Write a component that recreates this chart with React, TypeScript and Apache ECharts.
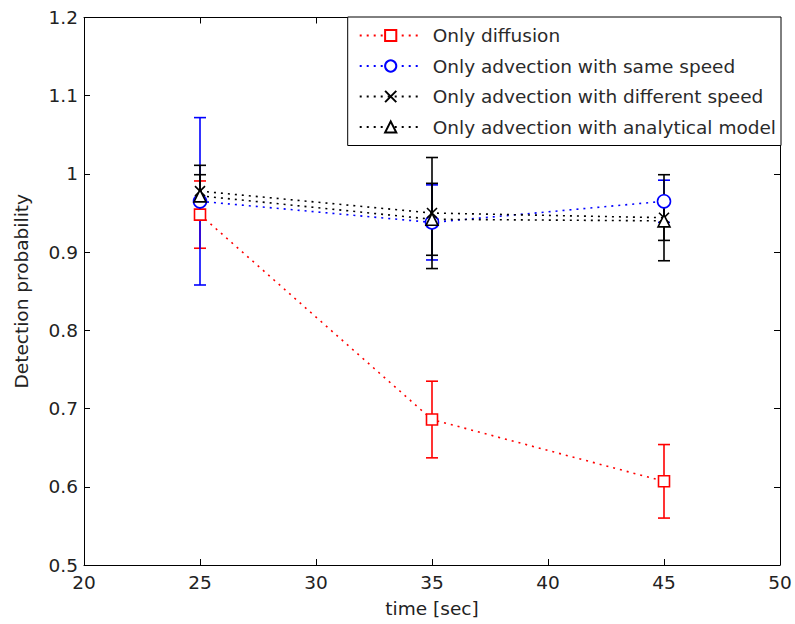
import React, { useEffect, useRef } from "react";
import * as echarts from "echarts";

const times = [25, 35, 45];
const diffusion = [0.948, 0.686, 0.607];
const diffusionErr = [0.043, 0.049, 0.047];
const sameSpeed = [0.965, 0.938, 0.965];
const sameSpeedErr = [0.107, 0.048, 0.027];
const diffSpeed = [0.978, 0.95, 0.944];
const diffSpeedErr = [0.033, 0.071, 0.055];
const analytical = [0.972, 0.942, 0.94];
const analyticalErr = [0.027, 0.046, 0.025];

const seriesNames = [
  "Only diffusion",
  "Only advection with same speed",
  "Only advection with different speed",
  "Only advection with analytical model",
];

const FONT = "DejaVu Sans";
const FS = 18.5;

export default function App() {
  const ref = useRef<HTMLDivElement>(null);
  useEffect(() => {
    if (!ref.current) return;
    const chart = echarts.init(ref.current, undefined, { renderer: "svg" });

    const errSeries = (vals: number[], errs: number[], color: string) => ({
      type: "custom",
      xAxisIndex: 0,
      yAxisIndex: 0,
      z: 2,
      silent: true,
      data: times.map((t, i) => [t, vals[i] - errs[i], vals[i] + errs[i]]),
      renderItem: (params: any, api: any) => {
        const x = api.value(0);
        const lo = api.coord([x, api.value(1)]);
        const hi = api.coord([x, api.value(2)]);
        const hw = 6;
        const style = { stroke: color, lineWidth: 1.6 };
        return {
          type: "group",
          children: [
            { type: "line", shape: { x1: lo[0], y1: lo[1], x2: hi[0], y2: hi[1] }, style },
            { type: "line", shape: { x1: hi[0] - hw, y1: hi[1], x2: hi[0] + hw, y2: hi[1] }, style },
            { type: "line", shape: { x1: lo[0] - hw, y1: lo[1], x2: lo[0] + hw, y2: lo[1] }, style },
          ],
        };
      },
    });

    const lineSeries = (
      name: string,
      vals: number[],
      color: string,
      symbol: string,
      size: number
    ) => ({
      type: "line",
      name,
      z: 3,
      data: times.map((t, i) => [t, vals[i]]),
      symbol,
      symbolSize: size,
      showAllSymbol: true,
      lineStyle: { color, width: 1.6, type: [2, 5] },
      itemStyle: { color: symbol.startsWith("path") ? "none" : "#fff", borderColor: color, borderWidth: 1.6 },
      emphasis: { disabled: true },
    });

    const option: any = {
      animation: false,
      backgroundColor: "#fff",
      textStyle: { fontFamily: FONT },
      grid: { left: 84, right: 15, top: 17.5, bottom: 59, containLabel: false },
      legend: {
        orient: "vertical",
        right: 14,
        top: 17,
        padding: [9, 5, 9, 11],
        itemWidth: 62,
        itemHeight: 14,
        itemGap: 11.5,
        backgroundColor: "#fff",
        borderColor: "#000",
        borderWidth: 1,
        borderRadius: 0,
        textStyle: {
          fontFamily: FONT,
          fontSize: FS,
          color: "#2a2a2a",
          padding: [0, 0, 0, 6],
        },
        data: seriesNames,
      },
      xAxis: [
        {
          type: "value",
          min: 20,
          max: 50,
          interval: 5,
          name: "time [sec]",
          nameLocation: "middle",
          nameGap: 34,
          nameTextStyle: { fontFamily: FONT, fontSize: FS, color: "#222" },
          axisLine: { lineStyle: { color: "#000", width: 1 } },
          axisTick: { inside: true, length: 6, lineStyle: { color: "#000" } },
          axisLabel: { fontFamily: FONT, fontSize: FS, color: "#222", margin: 8 },
          splitLine: { show: false },
        },
        {
          type: "value",
          position: "top",
          min: 20,
          max: 50,
          interval: 5,
          axisLine: { show: true, lineStyle: { color: "#000", width: 1 } },
          axisTick: { inside: true, length: 6, lineStyle: { color: "#000" } },
          axisLabel: { show: false },
          splitLine: { show: false },
        },
      ],
      yAxis: [
        {
          type: "value",
          min: 0.5,
          max: 1.2,
          interval: 0.1,
          name: "Detection probability",
          nameLocation: "middle",
          nameGap: 53,
          nameTextStyle: { fontFamily: FONT, fontSize: FS, color: "#222" },
          axisLine: { show: true, lineStyle: { color: "#000", width: 1 } },
          axisTick: { show: true, inside: true, length: 6, lineStyle: { color: "#000" } },
          axisLabel: {
            fontFamily: FONT,
            fontSize: FS,
            color: "#222",
            margin: 6,
            formatter: (v: number) => String(Math.round(v * 10) / 10),
          },
          splitLine: { show: false },
        },
        {
          type: "value",
          position: "right",
          min: 0.5,
          max: 1.2,
          interval: 0.1,
          axisLine: { show: true, lineStyle: { color: "#000", width: 1 } },
          axisTick: { show: true, inside: true, length: 6, lineStyle: { color: "#000" } },
          axisLabel: { show: false },
          splitLine: { show: false },
        },
      ],
      series: [
        errSeries(diffusion, diffusionErr, "#ff0000"),
        errSeries(sameSpeed, sameSpeedErr, "#0000ff"),
        errSeries(diffSpeed, diffSpeedErr, "#000000"),
        errSeries(analytical, analyticalErr, "#000000"),
        lineSeries(seriesNames[0], diffusion, "#ff0000", "rect", 11),
        lineSeries(seriesNames[1], sameSpeed, "#0000ff", "circle", 13),
        lineSeries(seriesNames[2], diffSpeed, "#000000", "path://M0,0L10,10M10,0L0,10", 10),
        lineSeries(seriesNames[3], analytical, "#000000", "triangle", 12),
      ],
    };
    chart.setOption(option);
    return () => chart.dispose();
  }, []);
  return (
    <div
      ref={ref}
      style={{ position: "absolute", left: 0, top: 0, width: 795, height: 624, overflow: "hidden" }}
    />
  );
}
